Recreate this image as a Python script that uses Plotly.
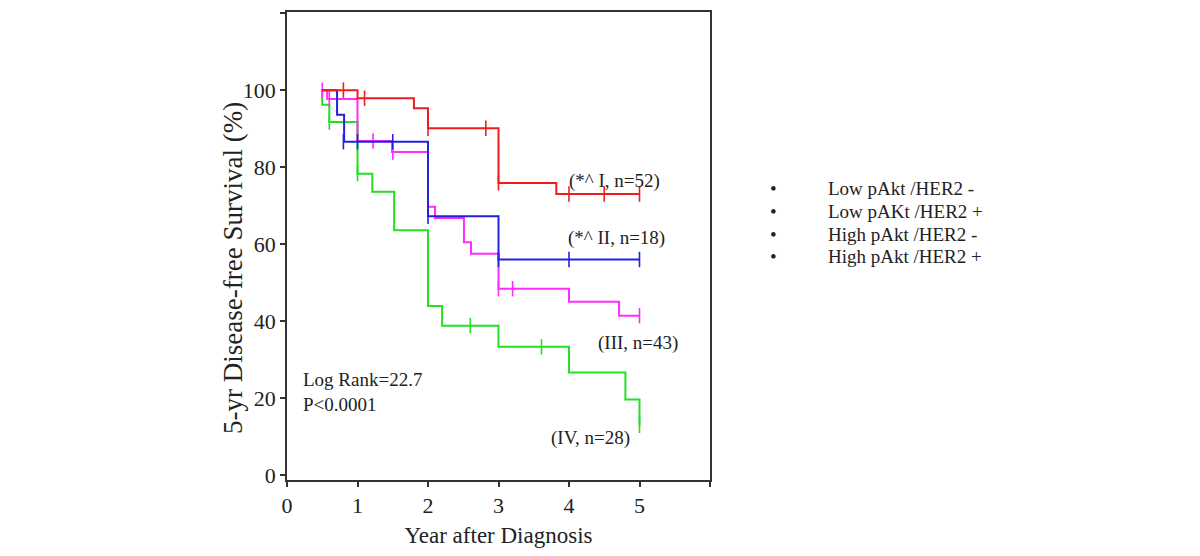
import plotly.graph_objects as go

# Kaplan-Meier step data (time in years, survival %)
red_t = [0.5, 1.0, 1.8, 2.0, 3.0, 3.82, 5.0]
red_s = [100, 97.9, 95.3, 90.1, 75.9, 73.0, 73.0]
red_ct = [0.8, 1.1, 2.0, 2.82, 3.0, 4.0, 4.5, 5.0]
red_cs = [100, 97.9, 90.1, 90.1, 75.9, 73.0, 73.0, 73.0]

blue_t = [0.5, 0.71, 0.81, 2.0, 3.0, 5.0]
blue_s = [100, 93.6, 86.6, 67.2, 56.0, 56.0]
blue_ct = [0.8, 1.0, 1.5, 2.0, 3.0, 4.0, 5.0]
blue_cs = [86.6, 86.6, 86.6, 67.2, 56.0, 56.0, 56.0]

mag_t = [0.5, 0.57, 1.0, 1.49, 2.0, 2.1, 2.51, 2.61, 3.0, 4.0, 4.71, 5.0]
mag_s = [100, 97.7, 86.8, 83.9, 69.7, 66.8, 60.5, 57.5, 48.4, 45.0, 41.4, 41.4]
mag_ct = [0.5, 0.6, 1.22, 1.5, 2.0, 3.0, 3.2, 5.0]
mag_cs = [100, 97.7, 86.8, 83.9, 69.7, 48.4, 48.4, 41.4]

grn_t = [0.48, 0.5, 0.6, 1.0, 1.21, 1.52, 2.0, 2.2, 3.0, 4.0, 4.8, 5.0]
grn_s = [100, 96.2, 91.7, 78.3, 73.6, 63.6, 43.9, 38.8, 33.3, 26.6, 19.6, 12.9]
grn_ct = [0.6, 1.0, 2.6, 3.61, 5.0]
grn_cs = [91.7, 78.3, 38.8, 33.3, 12.9]

x_ticks = [0, 1, 2, 3, 4, 5, 6]
x_labels = ["0", "1", "2", "3", "4", "5", ""]
y_ticks = [0, 20, 40, 60, 80, 100, 120]
y_labels = ["0", "20", "40", "60", "80", "100", ""]

groups = ["(*^ I, n=52)", "(*^ II, n=18)", "(III, n=43)", "(IV, n=28)"]
legend_items = ["Low pAkt /HER2 -", "Low pAKt /HER2 +", "High pAkt /HER2 -", "High pAkt /HER2 +"]

FONT = "Liberation Serif, Times New Roman, serif"
TXT = "#222"

fig = go.Figure()
series = [
    (grn_t, grn_s, grn_ct, grn_cs, "#22e022"),
    (mag_t, mag_s, mag_ct, mag_cs, "#ff2cff"),
    (blue_t, blue_s, blue_ct, blue_cs, "#2222dd"),
    (red_t, red_s, red_ct, red_cs, "#f01c1c"),
]
for t, s, ct, cs, col in series:
    fig.add_trace(go.Scatter(x=t, y=s, mode="lines", line=dict(color=col, width=2, shape="hv"),
                             showlegend=False, hoverinfo="skip"))
    fig.add_trace(go.Scatter(x=ct, y=cs, mode="markers",
                             marker=dict(symbol="line-ns-open", size=11, color=col,
                                         line=dict(color=col, width=1.6)),
                             showlegend=False, hoverinfo="skip"))

ann_pos = [(4.65, 76.3), (4.67, 61.6), (4.98, 34.2), (4.31, 9.5)]
for (ax, ay), txt in zip(ann_pos, groups):
    fig.add_annotation(x=ax, y=ay, text=txt, showarrow=False, font=dict(family=FONT, size=19, color=TXT))

fig.add_annotation(x=0.2, y=21.5, text="Log Rank=22.7<br>P<0.0001", showarrow=False, xanchor="left",
                   align="left", font=dict(family=FONT, size=19, color=TXT))

# plot area: 423 x 470 px, left edge at page x=287, bottom at page y=480
for i, item in enumerate(legend_items):
    py = 187 + i * 23
    yp = (480 - py) / 470
    fig.add_annotation(xref="paper", yref="paper", x=(773 - 287) / 423, y=yp, text="•", showarrow=False,
                       xanchor="center", font=dict(family=FONT, size=19, color=TXT))
    fig.add_annotation(xref="paper", yref="paper", x=(826 - 287) / 423, y=yp, text=item, showarrow=False,
                       xanchor="left", font=dict(family=FONT, size=19, color=TXT))

# y-axis title (placed as rotated text, slightly below the plot-area centre as in the reference)
fig.add_annotation(xref="paper", yref="paper", x=(233 - 287) / 423, y=(480 - 267) / 470,
                   xanchor="center", yanchor="middle",
                   text="5-yr Disease-free Survival (%)", textangle=-90, showarrow=False,
                   font=dict(family=FONT, size=27, color=TXT))

axis_common = dict(showgrid=False, zeroline=False, showline=True, linecolor="#333", linewidth=1.5,
                   mirror=True, ticks="outside", ticklen=5, tickwidth=1.5, tickcolor="#333",
                   tickfont=dict(family=FONT, size=22, color=TXT))
fig.update_xaxes(range=[0, 6], tickvals=x_ticks, ticktext=x_labels,
                 title=dict(text="Year after Diagnosis", font=dict(family=FONT, size=23, color=TXT), standoff=12),
                 **axis_common)
fig.update_yaxes(range=[-1.3, 120.3], tickvals=y_ticks, ticktext=y_labels, **axis_common)

# page body has an 8px margin, so the figure is 1184 x 540 placed at (8, 8)
fig.update_layout(width=1184, height=540, margin=dict(l=279, r=482, t=2, b=68),
                  plot_bgcolor="white", paper_bgcolor="white")
fig.write_html("out.html")
